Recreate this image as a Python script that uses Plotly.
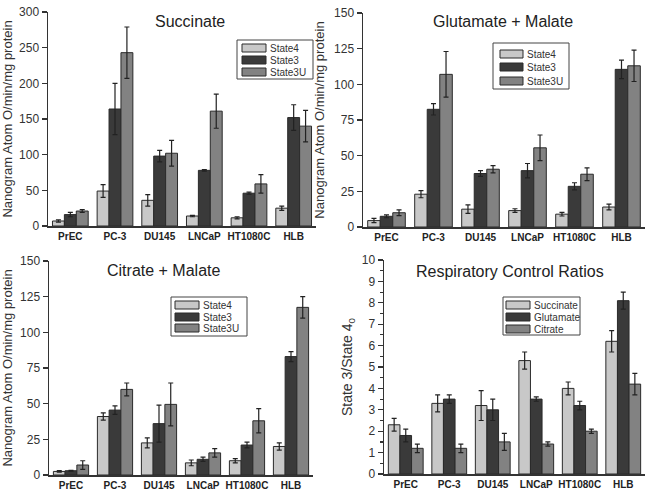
import plotly.graph_objects as go

categories = ["PrEC", "PC-3", "DU145", "LNCaP", "HT1080C", "HLB"]

# Succinate
suc_s4 = [7, 49, 36, 14, 11.5, 25]
suc_s4_err = [1.5, 9, 8, 1, 1.5, 3]
suc_s3 = [16, 164, 98, 78, 46, 152]
suc_s3_err = [3, 36, 8, 1, 1.5, 18]
suc_s3u = [21, 243, 102, 161, 59, 140]
suc_s3u_err = [2, 36, 18, 24, 13, 22]

# Glutamate + Malate
glu_s4 = [4.5, 23, 12.5, 11.5, 9, 14]
glu_s4_err = [1.5, 2.5, 3, 1.3, 1.3, 2]
glu_s3 = [7.5, 82.5, 37.5, 39.5, 28.5, 110.5]
glu_s3_err = [1, 4, 2, 5, 2.5, 6.5]
glu_s3u = [10, 107, 40.5, 55.5, 37, 113]
glu_s3u_err = [2, 16, 2.5, 9, 4.5, 11]

# Citrate + Malate
cit_s4 = [2.5, 41, 22.5, 8.5, 10, 20]
cit_s4_err = [0.5, 2.5, 3.5, 2, 1.5, 2.5]
cit_s3 = [3, 45.5, 36, 11, 21, 83]
cit_s3_err = [0.3, 3, 13, 1.5, 2, 3.5]
cit_s3u = [7, 60, 49.5, 15.5, 38, 117.5]
cit_s3u_err = [3, 4.5, 15, 3, 8.5, 7.5]

# Respiratory Control Ratios
rcr_suc = [2.3, 3.3, 3.2, 5.3, 4.0, 6.2]
rcr_suc_err = [0.3, 0.4, 0.7, 0.4, 0.3, 0.5]
rcr_glu = [1.8, 3.5, 3.0, 3.5, 3.2, 8.1]
rcr_glu_err = [0.3, 0.2, 0.5, 0.1, 0.2, 0.4]
rcr_cit = [1.2, 1.2, 1.5, 1.4, 2.0, 4.2]
rcr_cit_err = [0.2, 0.2, 0.4, 0.1, 0.1, 0.5]

state_names = ["State4", "State3", "State3U"]
rcr_names = ["Succinate", "Glutamate", "Citrate"]
colors = ["#c8c8c8", "#3a3a3a", "#828282"]

W, H = 653, 494


def px(x):
    return x / W


def py(y):
    return 1 - y / H


# Layout in pixel units (converted to paper fractions)
panels = [
    dict(title="Succinate", series=[(suc_s4, suc_s4_err), (suc_s3, suc_s3_err), (suc_s3u, suc_s3u_err)],
         names=state_names, yrange=[0, 300], dtick=50,
         box=(48, 316, 12, 226), ytitle="Nanogram Atom O/min/mg protein", ytsize=13,
         legbox=(237, 313, 40, 79), swx=(242, 266), rows=(48, 60, 72), title_xy=(190, 22)),
    dict(title="Glutamate + Malate", series=[(glu_s4, glu_s4_err), (glu_s3, glu_s3_err), (glu_s3u, glu_s3u_err)],
         names=state_names, yrange=[0, 150], dtick=25,
         box=(363, 645, 13, 227), ytitle="Nanogram Atom O/min/mg protein", ytsize=13,
         legbox=(493, 569, 43, 89), swx=(500, 523), rows=(54, 67, 81), title_xy=(503, 21)),
    dict(title="Citrate + Malate", series=[(cit_s4, cit_s4_err), (cit_s3, cit_s3_err), (cit_s3u, cit_s3u_err)],
         names=state_names, yrange=[0, 150], dtick=25,
         box=(49, 313, 261, 475), ytitle="Nanogram Atom O/min/mg protein", ytsize=13,
         legbox=(171, 247, 297, 336), swx=(175, 199), rows=(305, 317, 328), title_xy=(163, 270)),
    dict(title="Respiratory Control Ratios", series=[(rcr_suc, rcr_suc_err), (rcr_glu, rcr_glu_err), (rcr_cit, rcr_cit_err)],
         names=rcr_names, yrange=[0, 10], dtick=1,
         box=(384, 645, 260, 474), ytitle="State 3/State 4<sub>0</sub>", ytsize=14,
         legbox=(503, 580, 297, 335), swx=(506, 530), rows=(305, 317, 329), title_xy=(510, 271)),
]

fig = go.Figure()
layout = {}
annotations = []
shapes = []
font_family = "Liberation Sans, Arial, sans-serif"

for i, p in enumerate(panels):
    n = i + 1
    xa = "x" if n == 1 else f"x{n}"
    ya = "y" if n == 1 else f"y{n}"
    x0, x1, y0, y1 = p["box"]
    for (vals, errs), name, col in zip(p["series"], p["names"], colors):
        fig.add_trace(go.Bar(
            x=categories, y=vals, name=name, xaxis=xa, yaxis=ya, showlegend=False,
            marker=dict(color=col, line=dict(color="#2a2a2a", width=1)),
            error_y=dict(type="data", array=errs, visible=True, color="#222222", thickness=1.2, width=2.5),
        ))
    layout[f"xaxis{'' if n == 1 else n}"] = dict(
        domain=[px(x0), px(x1)], anchor=ya, showline=True, linecolor="#333", linewidth=1.5,
        ticks="", tickangle=0,
        tickfont=dict(size=10, family="Liberation Sans, Arial", color="#222", weight="bold"),
        showgrid=False, fixedrange=True, automargin=False,
    )
    layout[f"yaxis{'' if n == 1 else n}"] = dict(
        domain=[py(y1), py(y0)], anchor=xa, range=p["yrange"], dtick=p["dtick"],
        showline=True, linecolor="#333", linewidth=1.5,
        ticks="outside", ticklen=5, tickcolor="#333", tickwidth=1.2,
        minor=dict(ticks="outside", ticklen=3, tickcolor="#333", nticks=2),
        showgrid=False, zeroline=False, automargin=False,
        tickfont=dict(size=12, family=font_family, color="#333"),
        title=dict(text=p["ytitle"], font=dict(size=p["ytsize"], family=font_family, color="#333"), standoff=6),
    )
    # legend box
    lx0, lx1, ly0, ly1 = p["legbox"]
    shapes.append(dict(type="rect", xref="paper", yref="paper",
                       x0=px(lx0), x1=px(lx1), y0=py(ly1), y1=py(ly0),
                       line=dict(color="#444", width=1), fillcolor="white"))
    sx0, sx1 = p["swx"]
    for row_y, name, col in zip(p["rows"], p["names"], colors):
        shapes.append(dict(type="rect", xref="paper", yref="paper",
                           x0=px(sx0), x1=px(sx1), y0=py(row_y + 4), y1=py(row_y - 4),
                           line=dict(color="#2a2a2a", width=1), fillcolor=col))
        annotations.append(dict(text=name, x=px(sx1 + 2), y=py(row_y), xref="paper", yref="paper",
                                showarrow=False, xanchor="left", yanchor="middle",
                                font=dict(size=10, family=font_family, color="#333")))
    annotations.append(dict(
        text=p["title"], x=px(p["title_xy"][0]), y=py(p["title_xy"][1]), xref="paper", yref="paper",
        showarrow=False, xanchor="center", yanchor="middle",
        font=dict(size=16, family=font_family, color="#222"),
    ))

fig.update_layout(
    width=W, height=H,
    margin=dict(l=0, r=0, t=0, b=0, autoexpand=False),
    paper_bgcolor="white", plot_bgcolor="white",
    barmode="group", bargap=0.2, bargroupgap=0.0,
    showlegend=False, annotations=annotations, shapes=shapes,
    hovermode=False,
    **layout,
)

fig.write_html(
    "out.html",
    config={"displayModeBar": False, "staticPlot": True},
    post_script="document.body.style.margin='0';document.body.style.overflow='hidden';",
)
